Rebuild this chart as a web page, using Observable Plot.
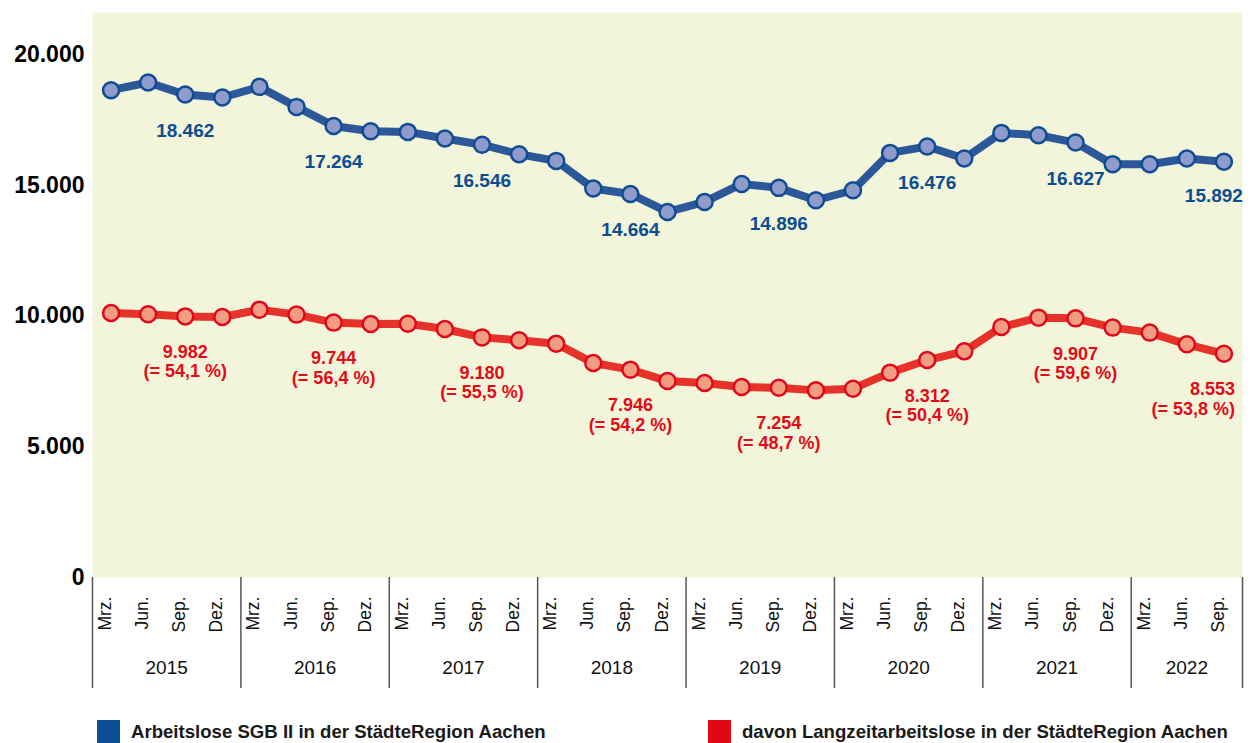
<!DOCTYPE html>
<html><head><meta charset="utf-8">
<script src="https://cdn.jsdelivr.net/npm/d3@7"></script>
<script src="https://cdn.jsdelivr.net/npm/@observablehq/plot@0.6"></script>
<style>
body{margin:0;background:#fff;font-family:"Liberation Sans",Arial,sans-serif;}
#legend{position:relative;height:43px;width:1252px;}
.item{position:absolute;top:20px;display:flex;align-items:center;font-weight:bold;font-size:18.6px;color:#1a1a1a;height:23px;white-space:nowrap;}
.sw{width:23px;height:23px;margin-right:11px;}
</style></head><body>
<div id="chart"></div>
<div id="legend">
  <div class="item" style="left:97px"><div class="sw" style="background:#0a4f96"></div>Arbeitslose SGB II in der StädteRegion Aachen</div>
  <div class="item" style="left:708px"><div class="sw" style="background:#e30613"></div>davon Langzeitarbeitslose in der StädteRegion Aachen</div>
</div>
<script>
const years = ["2015","2016","2017","2018","2019","2020","2021","2022"];
const months = ["Mrz.","Jun.","Sep.","Dez."];
const sgb2 = [18630,18925,18462,18351, 18757,17992,17264,17062, 17035,16783,16546,16182, 15927,14870,14664,13975,
              14358,15046,14896,14422, 14805,16232,16476,16016, 16997,16909,16627,15800, 15800,16016,15892];
const ltu  = [10111,10061,9982,9959, 10240,10050,9744,9691, 9704,9500,9180,9067, 8940,8198,7946,7510,
              7434,7281,7254,7154, 7218,7831,8312,8646, 9576,9935,9907,9553, 9362,8914,8553];
const labelIdx = [2,6,10,14,18,22,26,30];
const pct = ["54,1","56,4","55,5","54,2","48,7","50,4","59,6","53,8"];
const yTicks = [0,5000,10000,15000,20000];

const de = d3.formatLocale({decimal:",", thousands:".", grouping:[3], currency:["","€"]});
const fmt = de.format(",d");

const rows = [];
years.forEach((y, yi) => months.forEach((m, mi) => {
  const i = yi*4 + mi;
  if (i < sgb2.length) rows.push({i, month: m, year: y, sgb: sgb2[i], ltu: ltu[i]});
}));
const n = rows.length;
const yearRows = years.map((y, yi) => {
  const first = yi*4, last = Math.min(yi*4+3, n-1);
  return {year: y, c: (first+last)/2};
});
const bounds = years.map((y, yi) => yi*4 - 0.5).concat([n - 0.5]);
const labels = labelIdx.map((i, k) => ({i, sgb: sgb2[i], ltu: ltu[i], sText: fmt(sgb2[i]), lText: fmt(ltu[i]) + "\n(= " + pct[k] + " %)"}));
const labelsMid = labels.filter(d => d.i < n-1);
const labelsEnd = labels.filter(d => d.i === n-1);

const blueLine = "#2c5899", blueFill = "#8f9bcb", blueStroke = "#0e4c94", blueText = "#0c4d92";
const redLine = "#e63329", redFill = "#f29c81", redStroke = "#e2081c", redText = "#e30b17";

const chart = Plot.plot({
  width: 1252, height: 700,
  marginLeft: 92, marginRight: 10, marginTop: 12, marginBottom: 123,
  style: {fontFamily: "'Liberation Sans', Arial, sans-serif", background: "white", overflow: "visible"},
  x: {type: "linear", domain: [-0.5, n - 0.5], axis: null},
  y: {domain: [0, 21600], axis: null},
  marks: [
    Plot.frame({fill: "#f2f5da", stroke: "none"}),
    Plot.axisY({ticks: yTicks, tickSize: 0, tickPadding: 8, tickFormat: fmt, fontSize: 23, fontWeight: "bold", fill: "#000"}),
    Plot.axisX({ticks: bounds, tickSize: 111, tickFormat: () => "", stroke: "#555", strokeWidth: 1.5}),
    Plot.text(rows, {x: "i", text: "month", frameAnchor: "bottom", dy: 19, rotate: -90, textAnchor: "end", fontSize: 17.5, fill: "#111"}),
    Plot.text(yearRows, {x: "c", text: "year", frameAnchor: "bottom", dy: 96, fontSize: 19, fill: "#111"}),
    Plot.line(rows, {x: "i", y: "sgb", stroke: blueLine, strokeWidth: 8}),
    Plot.dot(rows, {x: "i", y: "sgb", r: 8, fill: blueFill, stroke: blueStroke, strokeWidth: 2.5}),
    Plot.line(rows, {x: "i", y: "ltu", stroke: redLine, strokeWidth: 8}),
    Plot.dot(rows, {x: "i", y: "ltu", r: 8, fill: redFill, stroke: redStroke, strokeWidth: 2.5}),
    Plot.text(labelsMid, {x: "i", y: "sgb", text: "sText", dy: 36, fontSize: 19, fontWeight: "bold", fill: blueText}),
    Plot.text(labelsEnd, {x: "i", y: "sgb", text: "sText", dy: 34, dx: 19, textAnchor: "end", fontSize: 19, fontWeight: "bold", fill: blueText}),
    Plot.text(labelsMid, {x: "i", y: "ltu", text: "lText", dy: 45, lineHeight: 1.08, fontSize: 18, fontWeight: "bold", fill: redText}),
    Plot.text(labelsEnd, {x: "i", y: "ltu", text: "lText", dy: 45, dx: 11, textAnchor: "end", lineHeight: 1.08, fontSize: 18, fontWeight: "bold", fill: redText})
  ]
});
document.getElementById("chart").appendChild(chart);
</script>
</body></html>
